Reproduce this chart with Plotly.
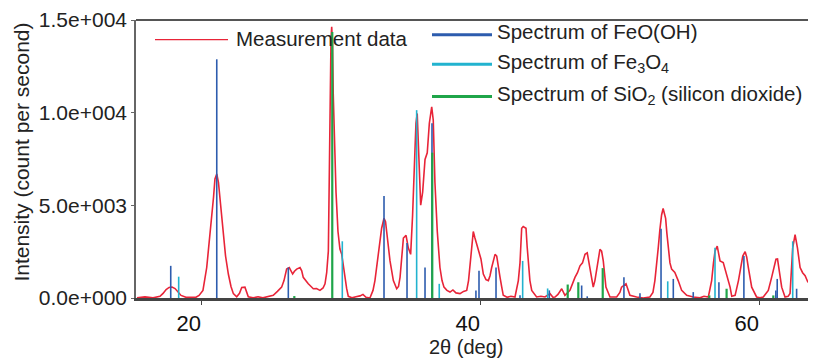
import plotly.graph_objects as go

# ---------------- data ----------------
# Measured XRD pattern: 2theta (deg) and intensity (counts per second)
meas_2theta = [15.36, 15.93, 16.51, 17.01, 17.23, 17.45, 17.66, 17.87, 18.09, 18.30, 18.52, 18.87, 19.23, 19.59, 19.81,
               20.09, 20.36, 20.52, 20.72, 20.85, 20.95, 21.08, 21.20, 21.31, 21.43, 21.55, 21.71, 21.91, 22.10, 22.27,
               22.51, 22.71, 22.87, 23.10, 23.25, 23.34, 23.68, 24.04, 24.39, 24.75, 25.13, 25.43, 25.73, 25.90, 26.09,
               26.28, 26.40, 26.52, 26.65, 26.81, 27.05, 27.17, 27.28, 27.44, 27.64, 27.84, 28.00, 28.23, 28.48, 28.70,
               28.84, 28.96, 29.08, 29.15, 29.21, 29.27, 29.32, 29.38, 29.43, 29.52, 29.63, 29.77, 29.91, 30.04, 30.15,
               30.27, 30.39, 30.51, 30.77, 31.06, 31.35, 31.56, 31.78, 32.06, 32.28, 32.42, 32.66, 32.90, 33.07, 33.18,
               33.26, 33.50, 33.74, 33.98, 34.11, 34.22, 34.46, 34.65, 34.81, 34.98, 35.12, 35.24, 35.36, 35.45, 35.55,
               35.70, 35.84, 36.01, 36.17, 36.32, 36.49, 36.60, 36.72, 36.89, 37.08, 37.23, 37.37, 37.58, 37.80, 38.01,
               38.23, 38.52, 38.77, 39.00, 39.13, 39.23, 39.35, 39.47, 39.59, 39.83, 40.02, 40.19, 40.38, 40.55, 40.67,
               40.79, 40.92, 41.03, 41.15, 41.26, 41.38, 41.51, 41.62, 41.89, 42.17, 42.46, 42.70, 42.82, 42.94, 43.05,
               43.25, 43.33, 43.41, 43.53, 43.66, 44.01, 44.32, 44.61, 44.97, 45.18, 45.33, 45.54, 45.81, 46.04, 46.40,
               46.58, 46.76, 46.94, 47.12, 47.30, 47.48, 47.64, 47.84, 48.07, 48.19, 48.32, 48.45, 48.55, 48.67, 48.79,
               48.98, 49.27, 49.75, 49.98, 50.10, 50.42, 50.56, 50.70, 51.18, 51.66, 52.13, 52.35, 52.49, 52.62, 52.73,
               52.85, 52.97, 53.08, 53.26, 53.35, 53.45, 53.57, 53.69, 53.92, 54.16, 54.41, 54.77, 55.24, 55.72, 56.01,
               56.32, 56.56, 56.69, 56.80, 56.96, 57.06, 57.16, 57.39, 57.64, 57.88, 58.00, 58.24, 58.48, 58.64, 58.79,
               58.96, 59.07, 59.19, 59.31, 59.43, 59.78, 60.02, 60.26, 60.62, 60.86, 61.03, 61.17, 61.28, 61.34, 61.46,
               61.58, 61.82, 62.04, 62.18, 62.29, 62.37, 62.54, 62.71, 62.90, 63.08, 63.26, 63.44, 63.62, 63.84, 64.05]
meas_intensity = [10, 60, 10, 90, 250, 460, 570, 590, 510, 355, 140, 40, 60, 40, 140,
                  410, 1645, 2800, 4300, 5450, 6420, 6690, 6245, 5360, 4390, 3240, 2265, 1295, 620, 235,
                  65, 250, 570, 585, 300, 65, 10, 65, 10, 65, 145, 355, 585, 940, 1560,
                  1645, 1415, 1295, 1445, 1560, 1645, 1470, 1115, 940, 765, 620, 500, 515, 410, 540,
                  765, 1365, 2530, 6775, 11550, 13940, 14630, 13675, 11015, 8370, 5710, 3590, 2640, 2355, 1735,
                  1115, 515, 90, 10, 65, 115, 195, 40, 0, 410, 940, 2355, 3765, 4300, 4120,
                  3590, 2000, 940, 500, 620, 1115, 3235, 3380, 2705, 2355, 4480, 7130, 9430, 9960, 7660,
                  5010, 5715, 7480, 7835, 9430, 10315, 9605, 6245, 3590, 1645, 940, 585, 410, 320, 435,
                  275, 235, 355, 410, 940, 1645, 2795, 3590, 3235, 2530, 2105, 1295, 990, 940, 1205,
                  1645, 2105, 2355, 2265, 1825, 1150, 585, 145, 40, 90, 55, 940, 1895, 3765, 3860,
                  3765, 2795, 1825, 940, 410, 55, 90, 55, 235, 40, 55, 195, 500, 145, 410,
                  780, 1115, 1365, 1735, 1895, 2355, 2440, 1470, 585, 940, 1645, 2265, 2620, 2530, 2000,
                  585, 55, 55, 300, 585, 765, 460, 145, 55, 0, 55, 300, 940, 1735, 2705,
                  3700, 4480, 4830, 4300, 3485, 2705, 1895, 1560, 1380, 940, 410, 145, 55, 10, 90,
                  55, 940, 1895, 2530, 2795, 2425, 2000, 1910, 1295, 585, 90, 145, 940, 1735, 2265,
                  2495, 2215, 1645, 1100, 585, 55, 10, 55, 410, 1115, 1735, 2090, 2105, 1825, 1205,
                  585, 55, 90, 250, 1470, 2705, 3415, 2705, 1645, 1365, 1205, 885, 765, 675, 570]

# Reference stick spectra (2theta, intensity)
feooh_2theta = [17.78, 21.08, 26.21, 33.07, 34.72, 36.01, 36.51, 39.66, 39.88, 41.10, 42.82, 44.92,
                47.24, 47.64, 50.27, 51.42, 52.93, 53.81, 55.24, 57.08, 58.87, 61.16, 61.26, 62.65, 63.84]
feooh_int = [1735, 12880, 1645, 5500, 2970, 1645, 9430, 410, 1470, 1645, 145, 410,
             675, 90, 1115, 250, 3735, 1030, 318, 850, 2265, 410, 1030, 500, 976]

fe3o4_2theta = [18.35, 30.08, 35.41, 37.03, 43.01, 44.80, 53.41, 56.80, 62.37]
fe3o4_int = [1150, 3060, 10135, 765, 2000, 515, 900, 2706, 3060]

sio2_2theta = [26.64, 29.36, 36.53, 46.24, 47.00, 48.75, 56.39, 57.63, 60.98]
sio2_int = [105, 14350, 7840, 727, 850, 1613, 140, 500, 140]

series_names = ["Measurement data", "Spectrum of FeO(OH)",
                "Spectrum of Fe<sub>3</sub>O<sub>4</sub>",
                "Spectrum of SiO<sub>2</sub> (silicon dioxide)"]
y_tickvals = [0, 5000, 10000, 15000]
y_ticktext = ["0.0e+000", "5.0e+003", "1.0e+004", "1.5e+004"]
x_tickvals = [20, 40, 60]
x_ticktext = ["20", "40", "60"]

# ---------------- figure ----------------
RED = "rgb(232,36,56)"
BLUE = "#2d5cae"
CYAN = "#22b3cf"
GREEN = "#1fa549"
FONT = "Liberation Sans, Arial, sans-serif"


def sticks(pos, hgt):
    xs, ys = [], []
    for p, h in zip(pos, hgt):
        xs += [p, p, None]
        ys += [0, h, None]
    return xs, ys


fig = go.Figure()
fig.add_trace(go.Scatter(x=meas_2theta, y=meas_intensity, mode="lines",
                         line=dict(color=RED, width=1.6), showlegend=False, hoverinfo="skip"))
for pos, hgt, col, w in [(feooh_2theta, feooh_int, BLUE, 1.6),
                         (fe3o4_2theta, fe3o4_int, CYAN, 1.6),
                         (sio2_2theta, sio2_int, GREEN, 2.2)]:
    xs, ys = sticks(pos, hgt)
    fig.add_trace(go.Scatter(x=xs, y=ys, mode="lines", line=dict(color=col, width=w),
                             showlegend=False, hoverinfo="skip"))

# page is rendered with an 8px body margin -> figure is 8px smaller and offsets shift by 8
OFF = 8
W, H = 816 - OFF, 363 - OFF
L, R, T, B = 136 - OFF, 0, 15 - OFF, 65
pw, ph = W - L - R, H - T - B


def px(xp):  # page pixel x -> paper
    return (xp - OFF - L) / pw


def py(yp):  # page pixel y -> paper
    return (H - B - (yp - OFF)) / ph


shapes = [dict(type="line", xref="paper", yref="paper", x0=0, x1=1, y0=1, y1=1,
               line=dict(color="#555", width=2))]
annotations = []
legend_items = [
    (series_names[0], RED, 1.2, 155, 228, 35, 234, 34),
    (series_names[1], BLUE, 3, 432, 492, 30, 495, 27),
    (series_names[2], CYAN, 3, 432, 492, 60, 495, 59),
    (series_names[3], GREEN, 3, 432, 492, 93, 495, 91),
]
for name, col, w, lx0, lx1, ly, tx, ty in legend_items:
    shapes.append(dict(type="line", xref="paper", yref="paper", x0=px(lx0), x1=px(lx1),
                       y0=py(ly), y1=py(ly), line=dict(color=col, width=w)))
    annotations.append(dict(text=name, xref="paper", yref="paper", x=px(tx), y=py(ty),
                            xanchor="left", yanchor="middle", showarrow=False,
                            font=dict(family=FONT, size=20.5, color="#222")))

annotations.append(dict(text="Intensity (count per second)", xref="paper", yref="paper",
                        x=px(22), y=py(150), textangle=-90, showarrow=False,
                        xanchor="center", yanchor="middle",
                        font=dict(family=FONT, size=21, color="#222")))
annotations.append(dict(text="2θ (deg)", xref="paper", yref="paper",
                        x=px(466), y=py(348), showarrow=False,
                        xanchor="center", yanchor="middle",
                        font=dict(family=FONT, size=20, color="#222")))

fig.update_layout(
    width=W, height=H, margin=dict(l=L, r=R, t=T, b=B),
    paper_bgcolor="white", plot_bgcolor="white",
    font=dict(family=FONT, color="#222"),
    shapes=shapes, annotations=annotations, showlegend=False,
)
fig.update_xaxes(range=[15.29, 64.04], tickvals=x_tickvals, ticktext=x_ticktext,
                 showgrid=False, zeroline=False, showline=True, linecolor="#444", linewidth=3,
                 ticks="outside", ticklen=4, tickcolor="#444", tickwidth=1,
                 tickfont=dict(family=FONT, size=22, color="#111"),
                 ticklabelshift=-13, layer="below traces", ticklabeloverflow="allow")
fig.update_yaxes(range=[0, 15000], tickvals=y_tickvals, ticktext=y_ticktext,
                 showgrid=False, zeroline=False, showline=True, linecolor="#666", linewidth=1.5,
                 ticks="outside", ticklen=3, tickcolor="#666", tickwidth=1,
                 tickfont=dict(family=FONT, size=21, color="#222"), layer="below traces",
                 ticklabeloverflow="allow")

fig.write_html("out.html")
